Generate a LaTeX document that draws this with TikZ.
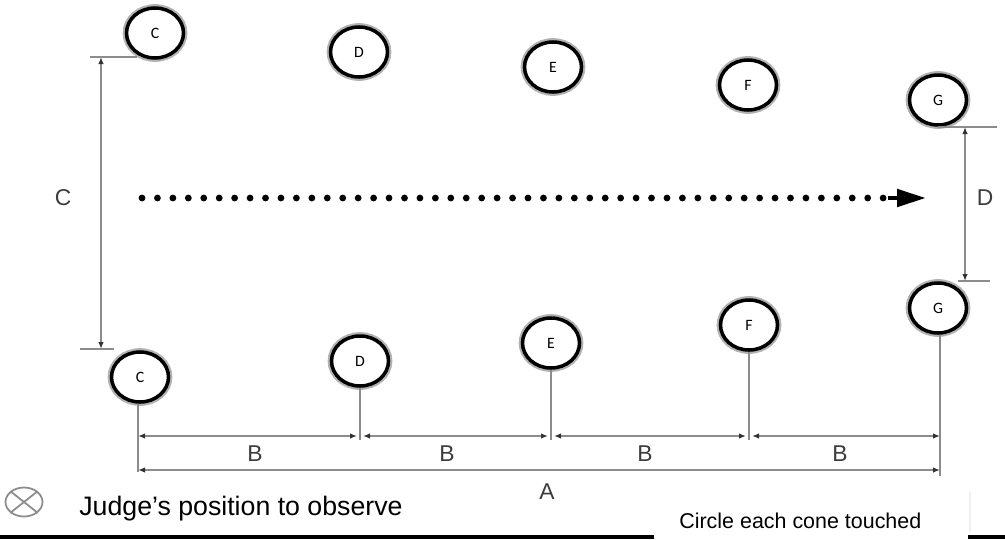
\documentclass[tikz,border=0pt]{standalone}
\usepackage{fontspec}
\setmainfont{Liberation Sans}
\newfontfamily\conefont{Carlito}
\usepackage{tikz}
\usetikzlibrary{positioning,calc,shapes.geometric,arrows.meta}
\definecolor{DimGray}{RGB}{140,140,140}
\definecolor{LabelGray}{RGB}{60,60,60}
\tikzset{
    cone/.style={ellipse, draw=black, line width=2pt, fill=white,
        minimum width=11.4mm, minimum height=10mm, inner sep=0pt,
        font=\conefont\fontsize{9}{10}\selectfont,
        preaction={draw=black!30, line width=4.4pt}},
    leader/.style={draw=DimGray, line width=1.2pt},
    dim/.style={draw=DimGray, line width=1.2pt,
        {Latex[length=1.4mm,width=1.1mm,color=black!80]}-{Latex[length=1.4mm,width=1.1mm,color=black!80]}},
    dimlabel/.style={text=LabelGray, font=\fontsize{13}{15}\selectfont}
}
\begin{document}
\begin{tikzpicture}[x=0.2mm, y=-0.2mm]
    \useasboundingbox (0,0) rectangle (1005,539);

    % cones, top row
    \node[cone] (c1) at (155,33) {C};
    \node[cone] (d1) at (359,52) {D};
    \node[cone] (e1) at (553,67) {E};
    \node[cone] (f1) at (748,85) {F};
    \node[cone] (g1) at (938,100) {G};
    % cones, bottom row
    \node[cone] (c2) at (140,377) {C};
    \node[cone] (d2) at (360,361) {D};
    \node[cone] (e2) at (551,343) {E};
    \node[cone] (f2) at (749,325) {F};
    \node[cone] (g2) at (938,308) {G};

    % leader lines
    \coordinate (cA) at (138,472);
    \coordinate (dB) at (360,440);
    \coordinate (eB) at (551,440);
    \coordinate (fB) at (749,440);
    \coordinate (gA) at (940,476);
    \draw[leader] (c2.south -| cA) -- (cA);
    \draw[leader] (d2.south) -- (dB);
    \draw[leader] (e2.south) -- (eB);
    \draw[leader] (f2.south) -- (fB);
    \draw[leader] (g2.south -| gA) -- (gA);

    % B and A dimensions
    \draw[dim] (138,436) -- (357,436);
    \draw[dim] (363,436) -- (548,436);
    \draw[dim] (554,436) -- (746,436);
    \draw[dim] (752,436) -- (940,436);
    \draw[dim] (138,470) -- (940,470);
    \node[dimlabel] (b1) at (255,454) {B};
    \node[dimlabel] (b2) at (447,454) {B};
    \node[dimlabel] (b3) at (645,454) {B};
    \node[dimlabel] (b4) at (840,454) {B};
    \node[dimlabel] (a) at (547,492) {A};

    % C dimension
    \coordinate (cT) at (101,57);
    \coordinate (cB) at (101,349);
    \draw[leader] (90,57) -- (137,57);
    \draw[leader] (80,349) -- (114,349);
    \draw[dim] (cT) -- (cB);
    \node[dimlabel] (clab) at (63,198) {C};

    % D dimension
    \coordinate (dT) at (965,127);
    \coordinate (dE) at (965,281);
    \draw[leader] (938,127) -- (997,127);
    \draw[leader] (958,281) -- (990,281);
    \draw[dim] (dT) -- (dE);
    \node[dimlabel] (dlab) at (985,198) {D};

    % run direction
    \coordinate (runS) at (142,198);
    \coordinate (runE) at (926,198);
    \foreach \i in {0,...,48}
        \fill ($(runS)+(15.44*\i,0)$) circle (3.4);
    \draw[line width=2.8pt, -{Triangle[length=5.8mm,width=3.4mm]}] (888,198) -- (runE);

    % judge
    \node[draw=black!45, line width=1pt, ellipse, minimum width=7.4mm, minimum height=5.8mm, inner sep=0pt] (judge) at (24,502) {};
    \draw[black!45, line width=1pt] (judge.north west) -- (judge.south east);
    \draw[black!45, line width=1pt] (judge.south west) -- (judge.north east);
    \node[anchor=base west, inner sep=0pt, font=\fontsize{15.2}{17}\selectfont] (jtext) at (79,515) {Judge’s position to observe};

    % bottom bar
    \fill[black] (0,535) rectangle (654,539);
    \fill[black] (968,535) rectangle (1005,539);
    \draw[black!6, line width=0.6pt] (970,492) -- (970,532);
    \node[anchor=base west, inner sep=0pt, font=\fontsize{12.2}{14}\selectfont] (ctext) at (679,528) {Circle each cone touched};
\end{tikzpicture}
\end{document}
